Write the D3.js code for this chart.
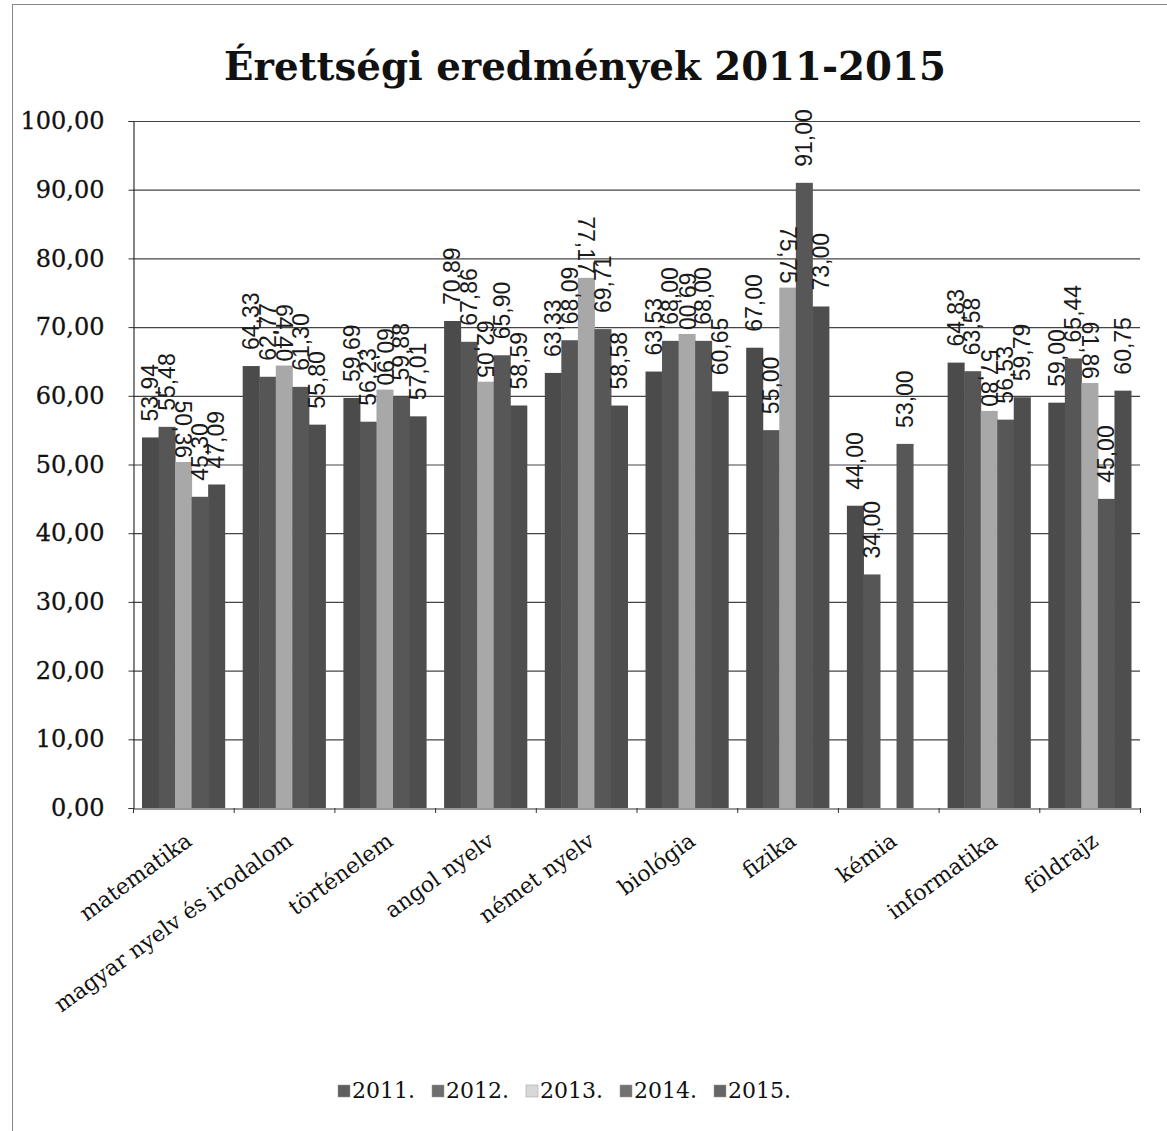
<!DOCTYPE html>
<html><head><meta charset="utf-8">
<script src="https://cdn.jsdelivr.net/npm/d3@7"></script>
<style>body{margin:0;background:#fff}</style>
</head><body>
<svg id="c" width="1167" height="1131"></svg>
<script>
const categories = ["matematika","magyar nyelv és irodalom","történelem","angol nyelv","német nyelv","biológia","fizika","kémia","informatika","földrajz"];
const years = ["2011.","2012.","2013.","2014.","2015."];
const v2011 = [53.94,64.33,59.69,70.89,63.33,63.53,67.00,44.00,64.83,59.00];
const v2012 = [55.48,62.77,56.23,67.86,68.09,68.00,55.00,34.00,63.58,65.44];
const v2013 = [50.36,64.40,60.90,62.05,77.17,69.00,75.75,null,57.80,61.86];
const v2014 = [45.30,61.30,59.88,65.90,69.71,68.00,91.00,53.00,56.53,45.00];
const v2015 = [47.09,55.80,57.01,58.59,58.58,60.65,73.00,null,59.79,60.75];
const yTicks = [0,10,20,30,40,50,60,70,80,90,100];
const title = "Érettségi eredmények 2011-2015";

const series = [v2011,v2012,v2013,v2014,v2015];
const colors = ["#4b4b4b","#565656","#a8a8a8","#575757","#4e4e4e"];
const legendColors = ["#5e5e5e","#6e6e6e","#d8d8d8","#727272","#666666"];

const svg = d3.select("#c");
const fmt = v => v.toFixed(2).replace(".", ",");

// border
svg.append("rect").attr("x",12.5).attr("y",4.5).attr("width",1160).attr("height",1140)
  .attr("fill","none").attr("stroke","#888").attr("stroke-width",1);

const pLeft = 133, pRight = 1140, pTop = 121, pBottom = 808;
const y = d3.scaleLinear().domain([0,100]).range([pBottom, pTop]);
const x0 = d3.scaleBand().domain(categories).range([pLeft, pRight]);
const x1 = d3.scaleBand().domain(years).range([9, x0.bandwidth()-9]);

// title
const t = svg.append("text").attr("x",585).attr("y",80).attr("text-anchor","middle")
  .attr("font-family","DejaVu Serif").attr("font-weight","bold").attr("font-size",40)
  .attr("fill","#111").text(title);
const tl = t.node().getComputedTextLength();
t.attr("font-size", 40*722/tl);

// gridlines
svg.append("g").selectAll("line").data(yTicks.slice(1)).join("line")
  .attr("x1",pLeft).attr("x2",pRight).attr("y1",d=>y(d)+0.5).attr("y2",d=>y(d)+0.5)
  .attr("stroke","#444").attr("stroke-width",1.2);

// y axis
const yAxis = d3.axisLeft(y).tickValues(yTicks).tickSize(5).tickPadding(24).tickFormat(fmt);
const gy = svg.append("g").attr("transform",`translate(${pLeft+0.5},0)`).call(yAxis);
gy.select(".domain").attr("stroke","#333").attr("stroke-width",1.2);
gy.selectAll(".tick line").attr("stroke","#333");
gy.selectAll("text").attr("font-family","DejaVu Serif").attr("font-size",24).attr("fill","#111")
  .attr("stroke","#111").attr("stroke-width",0.3);

// x axis
const xAxis = d3.axisBottom(x0).tickSize(0).tickFormat("");
const gx = svg.append("g").attr("transform",`translate(0,${pBottom+0.5})`).call(xAxis);
gx.select(".domain").attr("stroke","#333").attr("stroke-width",1.2);
svg.append("g").selectAll("line").data(categories.map(c=>x0(c)).concat([pRight])).join("line")
  .attr("x1",d=>d+0.5).attr("x2",d=>d+0.5).attr("y1",pBottom).attr("y2",pBottom+5).attr("stroke","#333");

// category labels
svg.append("g").selectAll("text").data(categories).join("text")
  .attr("transform",d=>`translate(${x0(d)+x0.bandwidth()/2+10},${pBottom+36}) rotate(-36)`)
  .attr("text-anchor","end").attr("font-family","DejaVu Serif").attr("font-size",22)
  .attr("fill","#111").text(d=>d);

// bars
const groups = svg.append("g").selectAll("g").data(categories).join("g")
  .attr("transform",d=>`translate(${x0(d)},0)`);
groups.selectAll("rect").data((c,ci)=>years.map((yr,si)=>({yr,si,v:series[si][ci]})).filter(d=>d.v!=null))
  .join("rect")
  .attr("x",d=>x1(d.yr)).attr("width",x1.bandwidth()+0.5)
  .attr("y",d=>y(d.v)).attr("height",d=>pBottom-y(d.v))
  .attr("fill",d=>colors[d.si]);

// data labels
groups.selectAll("text").data((c,ci)=>years.map((yr,si)=>({yr,si,v:series[si][ci]})).filter(d=>d.v!=null))
  .join("text")
  .attr("transform",d=>{
    const cx = x1(d.yr)+x1.bandwidth()/2;
    if (d.si===2) return `translate(${cx-8},${y(d.v)-4}) rotate(90)`;
    return `translate(${cx+8},${y(d.v)-16}) rotate(-90)`;
  })
  .attr("text-anchor",d=>d.si===2?"end":"start")
  .attr("font-family","Liberation Sans").attr("font-size",23).attr("fill","#1a1a1a")
  .text(d=>fmt(d.v));

// legend
const lg = svg.append("g").selectAll("g").data(years).join("g")
  .attr("transform",(d,i)=>`translate(${338+i*94},1098)`);
lg.append("rect").attr("x",0).attr("y",-13).attr("width",12).attr("height",12)
  .attr("fill",(d,i)=>legendColors[i]).attr("stroke","#999").attr("stroke-width",0.5);
lg.append("text").attr("x",14).attr("y",0).attr("font-family","DejaVu Serif").attr("font-size",22)
  .attr("fill","#111").text(d=>d);
</script>
</body></html>
